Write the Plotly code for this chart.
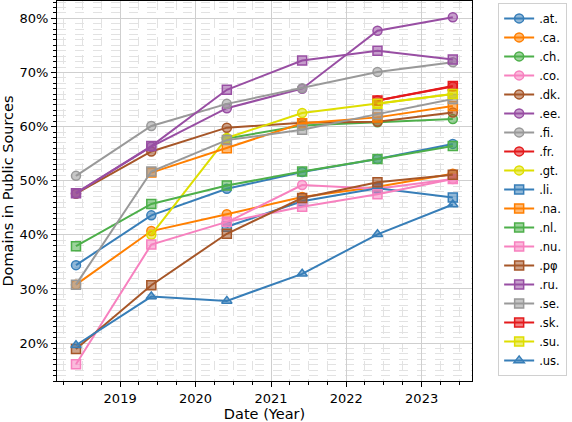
import plotly.graph_objects as go

# survey dates (one snapshot per year)
dates = ["2018-06-01", "2019-06-01", "2020-06-01", "2021-06-01", "2022-06-01", "2023-06-01"]

# share of domains found in public sources, in percent (None = no snapshot)
at_ = [34.4, 43.6, 48.5, 51.6, 54.0, 56.8]
ca_ = [30.8, 40.7, 43.8, 47.0, 48.9, 51.3]
ch_ = [None, None, 57.8, 60.2, 60.8, 61.4]
co_ = [None, None, 42.3, 49.2, 48.5, 50.3]
dk_ = [47.6, 55.4, 59.8, 60.7, 60.9, 62.6]
ee_ = [47.7, 56.3, 63.4, 67.0, 77.7, 80.2]
fi_ = [50.9, 60.1, 64.2, 67.1, 70.1, 71.9]
fr_ = [None, None, None, None, 64.8, 67.4]
gt_ = [None, 40.0, 57.9, 62.5, 64.2, 66.0]
li_ = [None, None, 41.5, 46.2, 48.6, 46.9]
na_ = [None, 51.5, 56.0, 60.6, 61.7, 63.8]
nl_ = [37.9, 45.7, 49.1, 51.7, 54.0, 56.4]
nu_ = [16.1, 38.2, 42.4, 45.2, 47.5, 50.3]
pf_ = [18.9, 30.7, 40.2, 46.8, 49.7, 51.1]
ru_ = [47.7, 56.4, 66.8, 72.2, 74.0, 72.4]
se_ = [30.8, 51.7, 57.5, 59.4, 62.3, 65.1]
sk_ = [None, None, None, None, 64.8, 67.5]
su_ = [None, None, None, None, 64.2, 66.0]
us_ = [19.6, 28.6, 27.8, 32.8, 40.1, 45.6]

names = [".at.", ".ca.", ".ch.", ".co.", ".dk.", ".ee.", ".fi.", ".fr.", ".gt.",
         ".li.", ".na.", ".nl.", ".nu.", ".pφ", ".ru.", ".se.", ".sk.", ".su.", ".us."]
values = [at_, ca_, ch_, co_, dk_, ee_, fi_, fr_, gt_,
          li_, na_, nl_, nu_, pf_, ru_, se_, sk_, su_, us_]

palette = ["#377eb8", "#ff7f00", "#4daf4a", "#f781bf", "#a65628",
           "#984ea3", "#999999", "#e41a1c", "#dede00"]


def faded(hex_color, alpha=0.55):
    h = hex_color.lstrip("#")
    r, g, b = (int(h[i:i + 2], 16) for i in (0, 2, 4))
    return f"rgba({r},{g},{b},{alpha})"


fig = go.Figure()
for i, (name, vals) in enumerate(zip(names, values)):
    color = palette[i % len(palette)]
    symbol = "circle" if i < 9 else ("square" if i < 18 else "triangle-up")
    fig.add_trace(go.Scatter(
        x=dates, y=vals, name=name, mode="lines+markers",
        line=dict(color=color, width=2),
        marker=dict(symbol=symbol, size=9, color=faded(color),
                    line=dict(color=color, width=1.5)),
        connectgaps=False,
    ))

axis_common = dict(
    showline=True, linecolor="black", linewidth=1.2, mirror=True,
    ticks="outside", ticklen=5, tickcolor="black",
    showgrid=True, gridcolor="#cfcfcf", gridwidth=1,
    zeroline=False, automargin=False,
)

fig.update_xaxes(
    **axis_common,
    type="date",
    range=["2018-03-01", "2023-09-02"],
    dtick="M12", tick0="2019-01-01", tickformat="%Y",
    minor=dict(dtick="M3", tick0="2019-01-01", ticks="outside", ticklen=3,
               tickcolor="black", showgrid=True, gridcolor="#e2e2e2",
               griddash="dash", gridwidth=1),
    title=dict(text="Date (Year)", standoff=3, font=dict(size=14.5)),
)
fig.update_yaxes(
    **axis_common,
    range=[13.0, 83.2],
    dtick=10, tick0=0, ticksuffix="%",
    minor=dict(dtick=1, ticks="outside", ticklen=3, tickcolor="black",
               showgrid=True, gridcolor="#e2e2e2", griddash="dash", gridwidth=1),
    title=dict(text="Domains in Public Sources", standoff=4, font=dict(size=14.5)),
)

fig.update_layout(
    width=572, height=422,
    margin=dict(l=57, r=100, t=1, b=41),
    plot_bgcolor="white", paper_bgcolor="white",
    font=dict(family="DejaVu Sans", size=13, color="black"),
    legend=dict(
        x=1.063, y=0.995, xanchor="left", yanchor="top",
        bordercolor="#d0d0d0", borderwidth=1,
        font=dict(size=11.5), tracegroupgap=0, itemwidth=30,
    ),
)

# the page adds a default 8px body margin; drop it so the figure sits at 0,0
fig.write_html("out.html", config={"displayModeBar": False},
               post_script="document.body.style.margin='0';")
